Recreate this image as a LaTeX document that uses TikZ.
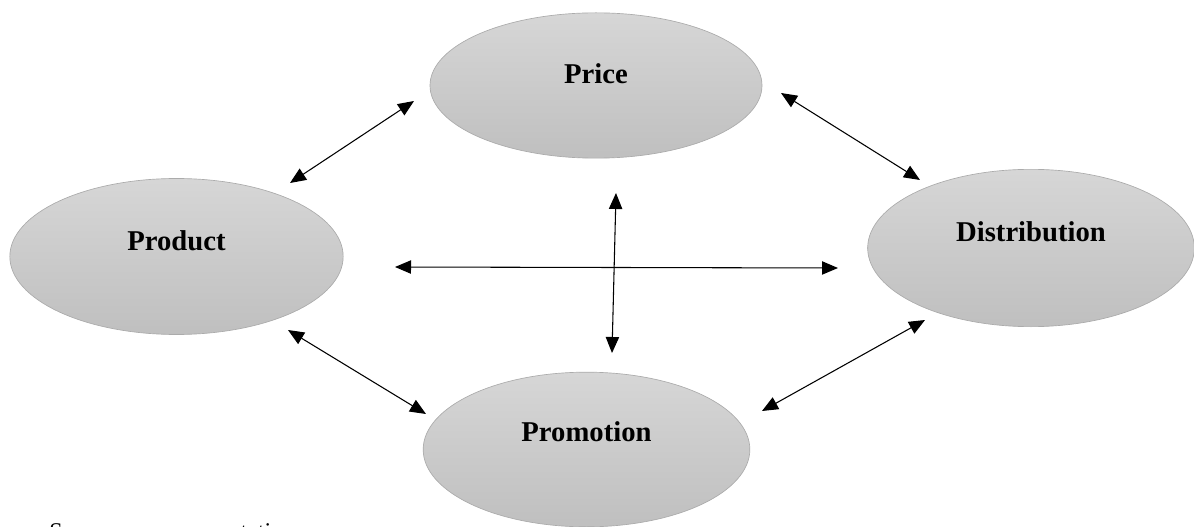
\documentclass[tikz,border=0pt]{standalone}
\usepackage{fontspec}
\setmainfont{Liberation Serif}
\usetikzlibrary{shapes.geometric,arrows.meta}
\tikzset{
  mixbox/.style={ellipse, draw=black!33, line width=0.5pt, top color=black!16, bottom color=black!25,
    minimum width=246pt, minimum height=117pt, inner sep=0pt},
  mixtext/.style={font=\fontsize{21.5}{24}\selectfont\bfseries},
  twoway/.style={{Triangle[length=12pt,width=10pt]}-{Triangle[length=12pt,width=10pt]}, line width=0.8pt},
}
\begin{document}
\begin{tikzpicture}[x=0.75pt, y=-0.75pt]
    \useasboundingbox (0,0) rectangle (1194,527);
    \node[mixbox, minimum width=249pt, minimum height=109pt] (price) at (596,85.5) {};
    \node[mixbox, minimum width=250pt] (product) at (176.5,256.5) {};
    \node[mixbox, minimum width=245pt, minimum height=118pt] (distribution) at (1031,248) {};
    \node[mixbox, minimum width=245pt, minimum height=116pt] (promotion) at (586.5,449.5) {};
    \node[mixtext] (pricetxt) at ([yshift=9pt]price.center) {Price};
    \node[mixtext] (producttxt) at ([yshift=12pt]product.center) {Product};
    \node[mixtext] (distributiontxt) at ([yshift=12pt]distribution.center) {Distribution};
    \node[mixtext] (promotiontxt) at ([yshift=13pt]promotion.center) {Promotion};
    \coordinate (a1) at (414,101);  \coordinate (a2) at (290,183);
    \coordinate (b1) at (781,93);   \coordinate (b2) at (920,180);
    \coordinate (c1) at (288,330);  \coordinate (c2) at (426,414);
    \coordinate (d1) at (925,320);  \coordinate (d2) at (762,411);
    \coordinate (h1) at (395,267);  \coordinate (h2) at (838,268);
    \coordinate (v1) at (616,193);  \coordinate (v2) at (612,353);
    \foreach \s/\t in {a1/a2, b1/b2, c1/c2, d1/d2, h1/h2, v1/v2}
      \draw[twoway] (\s) -- (\t);
    \node[anchor=base west, inner sep=0pt, font=\fontsize{18}{20}\selectfont] (source) at (49,539) {Source: own presentation};
\end{tikzpicture}
\end{document}
